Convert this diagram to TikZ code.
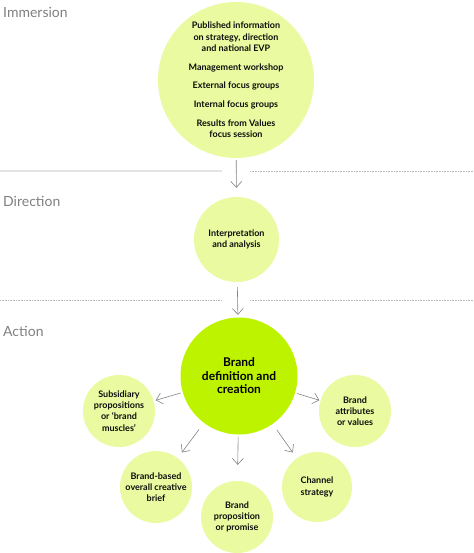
\documentclass[tikz,border=0pt]{standalone}
\usepackage{fontspec}
\setmainfont{Lato}
\usetikzlibrary{arrows.meta}
\definecolor{lightlime}{RGB}{234,250,160}
\definecolor{lime}{RGB}{190,243,0}
\definecolor{arrowgray}{RGB}{130,130,130}
\definecolor{labgray}{RGB}{128,128,128}
\definecolor{rulegray}{RGB}{228,228,228}
\definecolor{dotgray}{RGB}{185,185,185}
\begin{document}
\begin{tikzpicture}[x=1pt,y=-1pt,
 bubble/.style={circle, fill=lightlime, inner sep=0pt, align=center, font=\fontsize{9}{11.3}\selectfont\bfseries, text=black!95},
 core/.style={circle, fill=lime, inner sep=0pt, align=center, font=\fontsize{12}{13.5}\selectfont\bfseries},
 section/.style={anchor=base west, text=labgray, font=\fontsize{14}{16}\selectfont, inner sep=0pt},
 flow/.style={draw=arrowgray, line width=0.6pt, -{Straight Barb[length=6pt,width=11pt,line width=0.6pt]}},
 solidrule/.style={draw=rulegray, line width=2pt},
 dotrule/.style={draw=dotgray, line width=0.8pt, dash pattern=on 0.8pt off 0.8pt}]
\useasboundingbox (0,0) rectangle (473,553);

% section labels
\node[section] (limm) at (3,18) {Immersion};
\node[section] (ldir) at (3,206) {Direction};
\node[section] (lact) at (3,336) {Action};

% rules
\coordinate (r1a) at (0,171); \coordinate (r1b) at (222,171);
\coordinate (r1c) at (250,171); \coordinate (r1d) at (473,171);
\coordinate (r2a) at (0,300); \coordinate (r2b) at (222,300);
\coordinate (r2c) at (250,300); \coordinate (r2d) at (473,300);
\draw[solidrule] (r1a) -- (r1b);
\draw[dotrule] (r1c) -- (r1d);
\draw[dotrule] (r2a) -- (r2b);
\draw[dotrule] (r2c) -- (r2d);

% circles
\node[bubble, minimum size=156pt] (imm) at (236,80) {Published information\\on strategy, direction\\and national EVP\\[7.5pt]Management workshop\\[7.5pt]External focus groups\\[7.5pt]Internal focus groups\\[7.5pt]Results from Values\\focus session};
\node[bubble, minimum size=85pt] (dir) at (236.5,239.5) {Interpretation\\and analysis};
\node[core, minimum size=117pt] (core) at (239,376) {Brand\\definition and\\creation};
\node[bubble, minimum size=72pt] (sub) at (119,411) {Subsidiary\\propositions\\or `brand\\muscles'};
\node[bubble, minimum size=72pt] (attr) at (355,411) {Brand\\attributes\\or values};
\node[bubble, minimum size=72pt] (brief) at (156,487) {Brand-based\\overall creative\\brief};
\node[bubble, minimum size=72pt] (prop) at (237,517) {Brand\\proposition\\or promise};
\node[bubble, minimum size=70pt] (chan) at (317,487) {Channel\\strategy};

% arrows
\draw[flow, shorten <=2pt, shorten >=9pt] (imm) -- (dir);
\draw[flow, shorten <=5pt, shorten >=2.5pt] (dir) -- (core);
\draw[flow, shorten <=2pt, shorten >=2pt] (core) -- (sub);
\draw[flow, shorten <=2pt, shorten >=1pt] (core) -- (attr);
\draw[flow, shorten <=8pt, shorten >=7pt] (core) -- (brief);
\draw[flow, shorten <=2pt, shorten >=16pt] (core) -- (prop);
\draw[flow, shorten <=7pt, shorten >=7pt] (core) -- (chan);
\end{tikzpicture}
\end{document}
